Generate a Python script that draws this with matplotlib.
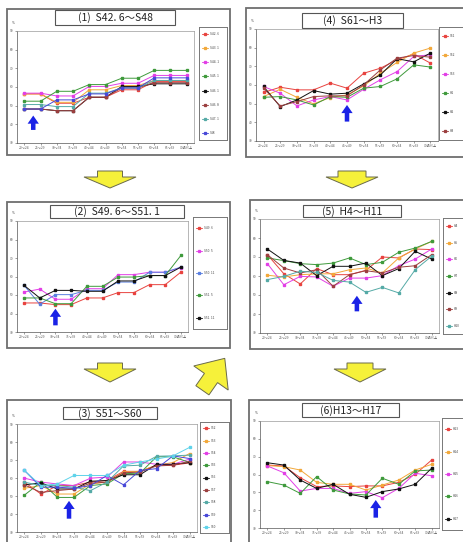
import matplotlib
matplotlib.use('Agg')
import matplotlib.pyplot as plt
from matplotlib.patches import Rectangle, Polygon, FancyArrowPatch
from matplotlib.lines import Line2D
import numpy as np

W, H = 463, 542
plt.rcParams['font.family'] = ['Noto Sans CJK JP', 'DejaVu Sans']

## Datos (tasa por grupo de edad, %)
ages = ['20～24', '25～29', '30～34', '35～39', '40～44', '45～49',
        '50～54', '55～59', '60～64', '65～69', '70歳以上']
y_ticks = [30, 40, 50, 60, 70, 80, 90]

p1_title = '(1)  S42. 6～S48'
p1_names = ['S42. 6', 'S43. 1', 'S44. 1', 'S45. 1', 'S46. 1', 'S46. 8', 'S47. 1', 'S48']
p1_values = [
    [56.3, 56.3, 51.3, 51.3, 54.5, 54.5, 58.5, 58.5, 62.9, 62.9, 62.9],
    [56.3, 56.3, 51.8, 51.8, 58.5, 58.5, 60.8, 60.8, 63.5, 63.5, 63.5],
    [56.7, 56.7, 55.2, 55.2, 60.3, 60.3, 62.0, 62.0, 66.2, 66.2, 66.2],
    [52.4, 52.4, 57.7, 57.7, 61.3, 61.3, 64.7, 64.7, 68.9, 68.9, 68.9],
    [48.2, 48.2, 47.3, 47.3, 54.5, 54.5, 60.3, 60.3, 61.7, 61.7, 61.7],
    [48.2, 48.2, 47.3, 47.3, 54.5, 54.5, 59.5, 59.5, 62.3, 62.3, 62.3],
    [50.6, 50.6, 49.5, 49.5, 56.7, 56.7, 59.5, 59.5, 63.5, 63.5, 63.5],
    [48.2, 48.2, 53.1, 53.1, 56.3, 56.3, 59.5, 59.5, 64.9, 64.9, 64.9],
]
p1_arrow = [0.55, 37.0, 44.7]

p2_title = '(2)  S49. 6～S51. 1'
p2_names = ['S49. 6', 'S50. 5', 'S50. 11', 'S51. 5', 'S51. 11']
p2_values = [
    [45.7, 45.7, 44.8, 44.8, 48.4, 48.4, 51.3, 51.3, 55.6, 55.6, 62.4],
    [51.6, 53.2, 47.7, 47.7, 53.4, 53.4, 61.0, 61.0, 62.3, 62.3, 64.8],
    [55.2, 45.0, 50.2, 50.2, 52.5, 52.5, 57.0, 57.0, 62.3, 62.3, 65.1],
    [48.4, 48.4, 45.3, 45.3, 54.7, 54.7, 59.7, 59.7, 60.5, 60.5, 71.4],
    [55.2, 48.4, 52.5, 52.5, 52.0, 52.0, 57.6, 57.6, 60.5, 60.5, 65.1],
]
p2_arrow = [2.0, 33.6, 42.6]

p3_title = '(3)  S51～S60'
p3_names = ['S52', 'S53', 'S54', 'S55', 'S56', 'S57', 'S58', 'S59', 'S60']
p3_values = [
    [57.7, 51.1, 55.8, 55.8, 57.7, 58.6, 63.7, 63.7, 67.1, 67.1, 68.4],
    [54.3, 55.8, 51.1, 51.1, 56.7, 57.7, 63.3, 63.7, 67.1, 68.6, 73.6],
    [59.9, 57.7, 56.7, 55.8, 59.9, 60.5, 68.9, 68.9, 67.6, 67.6, 70.5],
    [50.5, 57.7, 49.2, 49.2, 55.8, 56.7, 62.4, 62.7, 71.8, 71.8, 68.6],
    [56.2, 57.3, 53.9, 53.9, 58.2, 58.6, 61.8, 61.8, 67.6, 67.6, 68.6],
    [56.2, 52.0, 53.0, 53.9, 57.1, 57.7, 62.9, 63.3, 66.7, 67.1, 69.3],
    [57.7, 55.8, 55.8, 54.9, 53.0, 57.7, 66.7, 67.1, 72.1, 72.3, 72.7],
    [64.2, 54.9, 54.9, 54.3, 55.8, 61.4, 56.2, 64.2, 65.2, 72.3, 70.8],
    [64.2, 55.8, 56.7, 61.4, 61.4, 61.4, 67.1, 68.9, 70.5, 72.3, 77.0],
]
p3_arrow = [2.7, 37.4, 47.3]

p4_title = '(4)  S61～H3'
p4_names = ['S61', 'S62', 'S63', 'H1', 'H2', 'H3']
p4_values = [
    [56.0, 58.8, 57.4, 57.4, 61.0, 58.3, 66.3, 69.0, 73.5, 76.6, 71.7],
    [53.8, 57.7, 53.4, 49.9, 53.3, 54.7, 59.5, 66.3, 72.1, 77.1, 79.8],
    [59.2, 55.6, 48.8, 52.0, 53.8, 52.0, 57.7, 62.8, 67.2, 75.3, 76.2],
    [53.4, 53.8, 52.0, 49.3, 53.8, 53.4, 58.3, 59.2, 63.3, 70.8, 69.6],
    [59.2, 48.4, 52.0, 57.0, 55.1, 55.6, 60.6, 65.4, 74.1, 72.4, 77.1],
    [58.3, 48.8, 51.1, 53.8, 54.2, 54.2, 60.1, 68.1, 74.4, 75.8, 74.9],
]
p4_arrow = [5.0, 40.4, 49.3]

p5_title = '(5)  H4～H11'
p5_names = ['H4', 'H5', 'H6', 'H7', 'H8', 'H9', 'H10']
p5_values = [
    [71.2, 61.2, 55.8, 63.9, 60.7, 60.7, 63.0, 70.0, 69.5, 74.2, 73.9],
    [60.4, 59.5, 60.7, 61.1, 61.2, 63.3, 64.2, 61.6, 69.5, 74.2, 78.2],
    [66.5, 55.4, 59.8, 59.5, 54.6, 58.9, 58.9, 60.2, 65.4, 68.9, 74.2],
    [69.5, 68.1, 66.5, 66.0, 66.8, 69.5, 66.0, 67.2, 72.5, 74.7, 78.2],
    [74.2, 68.2, 66.8, 60.2, 65.1, 65.1, 66.8, 60.2, 63.9, 73.0, 68.9],
    [71.2, 64.2, 61.6, 63.3, 54.6, 60.7, 62.8, 61.6, 64.6, 65.4, 71.2],
    [58.1, 59.8, 62.5, 61.9, 57.7, 56.8, 51.4, 54.0, 51.1, 63.3, 70.4],
]
p5_arrow = [5.45, 41.4, 49.6]

p6_title = '(6)H13～H17'
p6_names = ['H13', 'H14', 'H15', 'H16', 'H17']
p6_values = [
    [65.3, 64.8, 58.2, 53.2, 53.6, 53.2, 53.6, 53.6, 55.6, 60.1, 68.1],
    [65.0, 64.4, 62.5, 55.6, 54.5, 54.5, 51.3, 54.1, 56.9, 62.5, 65.7],
    [64.8, 61.0, 50.7, 52.2, 52.2, 49.4, 50.4, 47.0, 52.2, 60.7, 59.3],
    [56.0, 54.1, 49.4, 58.8, 51.3, 49.1, 48.5, 57.9, 54.5, 62.0, 62.5],
    [66.6, 65.3, 56.9, 52.2, 54.5, 48.9, 47.2, 50.4, 51.9, 54.5, 63.5],
]
p6_arrow = [6.6, 35.8, 45.7]

## Cores
red, orange, magenta, green = '#e8433f', '#f2a83a', '#e23fe6', '#3f9a3c'
black, brown, teal, blue, cyan = '#111111', '#9b3f3f', '#55aaa6', '#4848d8', '#5fd3ea'
p1_colors = [red, orange, magenta, green, black, brown, teal, blue]
p2_colors = [red, magenta, '#5a7fe0', green, black]
p3_colors = [red, orange, magenta, green, black, brown, teal, blue, cyan]
p4_colors = [red, orange, magenta, green, black, brown]
p5_colors = [red, orange, magenta, green, black, brown, teal]
p6_colors = [red, orange, magenta, green, black]

fig = plt.figure(figsize=(W / 100, H / 100), dpi=100)
bg = fig.add_axes([0, 0, 1, 1], zorder=0)
bg.set_xlim(0, W)
bg.set_ylim(H, 0)
bg.axis('off')


def fbox(x0, y0, x1, y1):
    return [x0 / W, 1 - y1 / H, (x1 - x0) / W, (y1 - y0) / H]


def panel(frame, tbox, pbox, lbox, title, names, values, colors, arrow):
    x0, y0, x1, y1 = frame
    bg.add_patch(Rectangle((x0, y0), x1 - x0, y1 - y0, facecolor='white',
                           edgecolor='#6e6e6e', lw=1.3))
    tx0, ty0, tx1, ty1 = tbox
    bg.add_patch(Rectangle((tx0, ty0), tx1 - tx0, ty1 - ty0, facecolor='white',
                           edgecolor='#555555', lw=0.8))
    bg.text((tx0 + tx1) / 2, (ty0 + ty1) / 2 + 0.5, title, fontsize=7.5,
            ha='center', va='center', color='#222222')

    ax = fig.add_axes(fbox(*pbox), zorder=2)
    for v, c in zip(values, colors):
        ax.plot(range(len(ages)), v, color=c, lw=0.7, marker='s', ms=1.5)
    ax.set_xlim(-0.45, 10.45)
    ax.set_ylim(30, 90)
    ax.set_xticks(range(len(ages)))
    ax.set_xticklabels(ages, fontsize=2.3, color='#444444')
    ax.set_yticks(y_ticks)
    ax.set_yticklabels([str(t) for t in y_ticks], fontsize=2.3, color='#444444')
    ax.tick_params(length=1.2, width=0.4, pad=1.2, colors='#555555')
    for s in ax.spines.values():
        s.set_color('#9a9a9a')
        s.set_linewidth(0.5)
    ax.spines['left'].set_color('#555555')
    ax.spines['bottom'].set_color('#555555')
    ax.annotate('%', xy=(0, 1), xycoords='axes fraction', xytext=(-4, 5),
                textcoords='offset points', fontsize=2.3, color='#444444')

    ax.add_patch(FancyArrowPatch((arrow[0], arrow[1]), (arrow[0], arrow[2]),
                                 arrowstyle='simple,head_width=1.25,head_length=0.9,tail_width=0.5',
                                 mutation_scale=6.5, shrinkA=0, shrinkB=0,
                                 color='#1a22e6', lw=0, zorder=5))

    lg = fig.add_axes(fbox(*lbox), zorder=2)
    lg.set_xlim(0, lbox[2] - lbox[0])
    lg.set_ylim(1, 0)
    lg.set_xticks([])
    lg.set_yticks([])
    for s in lg.spines.values():
        s.set_color('#777777')
        s.set_linewidth(0.7)
    n = len(names)
    for i, (name, c) in enumerate(zip(names, colors)):
        yy = (i + 0.5) / n
        lg.add_line(Line2D([3, 9], [yy, yy], color=c, lw=0.6))
        lg.plot([6], [yy], marker='s', ms=1.4, color=c)
        lg.text(10.5, yy, name, fontsize=2.3, va='center', color='#444444')


panel((7, 9, 230, 155), (55, 10, 175, 25), (17, 31, 194, 143), (199, 27, 227, 140),
      p1_title, p1_names, p1_values, p1_colors, p1_arrow)
panel((7, 202, 230, 348), (50, 205, 184, 218), (17, 221, 188, 332), (193, 217, 227, 329),
      p2_title, p2_names, p2_values, p2_colors, p2_arrow)
panel((7, 400, 231, 548), (63, 407, 157, 419), (17, 424, 197, 532), (200, 422, 229, 533),
      p3_title, p3_names, p3_values, p3_colors, p3_arrow)
panel((246, 8, 475, 157), (302, 13, 403, 28), (256, 29, 438, 141), (439, 27, 475, 140),
      p4_title, p4_names, p4_values, p4_colors, p4_arrow)
panel((250, 200, 475, 349), (303, 205, 401, 217), (260, 219, 439, 333), (443, 218, 475, 334),
      p5_title, p5_names, p5_values, p5_colors, p5_arrow)
panel((249, 400, 475, 548), (302, 403, 399, 417), (260, 421, 439, 528), (442, 418, 475, 530),
      p6_title, p6_names, p6_values, p6_colors, p6_arrow)

## Setas amarelas
yellow, edge = '#f6f13a', '#6a6a4a'


def down_arrow(cx, top, bottom, head_hw, stem_hw, stem_h):
    pts = [(cx - stem_hw, top), (cx + stem_hw, top), (cx + stem_hw, top + stem_h),
           (cx + head_hw, top + stem_h), (cx, bottom), (cx - head_hw, top + stem_h),
           (cx - stem_hw, top + stem_h)]
    bg.add_patch(Polygon(pts, closed=True, facecolor=yellow, edgecolor=edge, lw=0.7))


down_arrow(110, 171, 188, 26, 12.5, 6)
down_arrow(352, 171, 188, 26, 14, 6)
down_arrow(110, 363, 382, 26, 12.5, 6)
down_arrow(360, 363, 382, 26, 13, 6)

# seta diagonal (3) -> (4)
shape = np.array([[0, -24], [-21, 0], [-8, 0], [-8, 15], [8, 15], [8, 0], [21, 0]])
ang = np.deg2rad(35)
rot = np.array([[np.cos(ang), -np.sin(ang)], [np.sin(ang), np.cos(ang)]])
pts = shape @ rot.T + np.array([211, 378])
bg.add_patch(Polygon(pts, closed=True, facecolor=yellow, edgecolor=edge, lw=0.7))

fig.savefig('out.png', dpi=100)
